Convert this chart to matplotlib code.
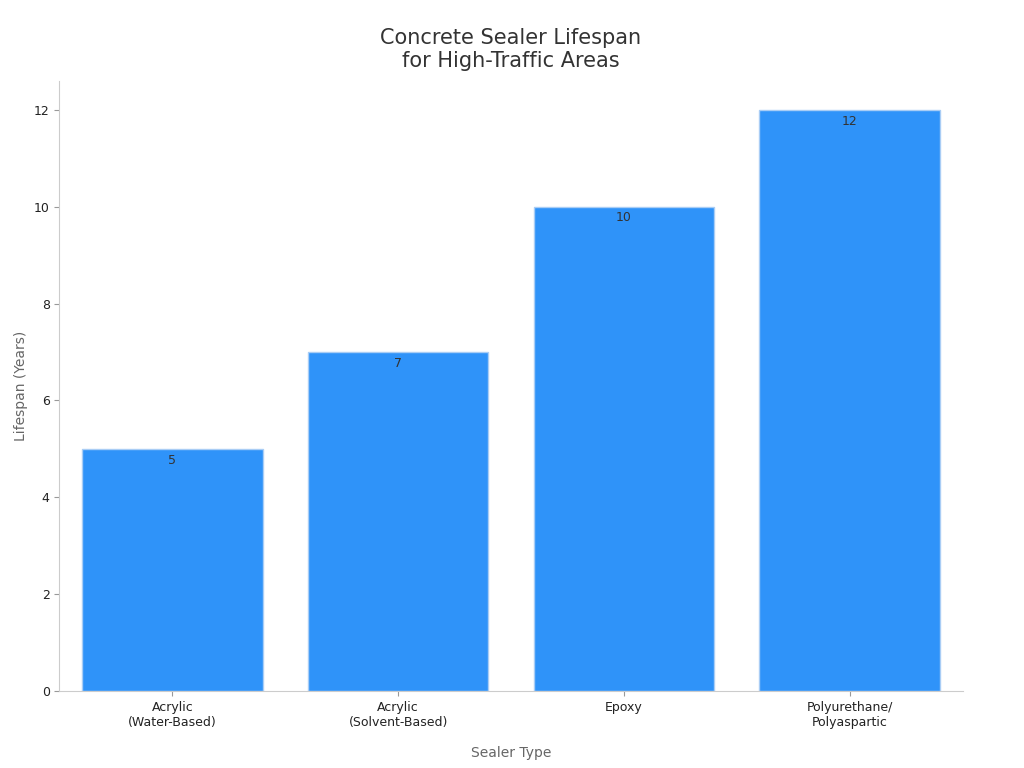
import matplotlib
matplotlib.use("Agg")
import matplotlib.pyplot as plt

categories = ["Acrylic\n(Water-Based)", "Acrylic\n(Solvent-Based)", "Epoxy", "Polyurethane/\nPolyaspartic"]
values = [5, 7, 10, 12]

fig, ax = plt.subplots(figsize=(10.24, 7.68), dpi=100)
fig.subplots_adjust(left=0.058, right=0.94, top=0.895, bottom=0.1)
bars = ax.bar(range(len(values)), values, width=0.8, color="#2f93f9", edgecolor="#a9cdf5", linewidth=1)
for i, v in enumerate(values):
    ax.text(i, v - 0.1, str(v), ha="center", va="top", fontsize=9, color="#333333")
ax.set_xticks(range(len(values)))
ax.set_xticklabels(categories, fontsize=9, color="#222222")
ax.tick_params(axis="y", labelsize=9, colors="#222222")
ax.tick_params(color="#999999")
ax.set_xlim(-0.5, 3.5)
ax.set_ylim(0, 12.6)
ax.set_yticks(range(0, 13, 2))
for s in ["top", "right"]:
    ax.spines[s].set_visible(False)
for s in ["left", "bottom"]:
    ax.spines[s].set_color("#cccccc")
ax.set_xlabel("Sealer Type", fontsize=10, color="#666666", labelpad=12)
ax.set_ylabel("Lifespan (Years)", fontsize=10, color="#666666")
ax.set_title("Concrete Sealer Lifespan\nfor High-Traffic Areas", fontsize=15, color="#333333", pad=10)
fig.savefig("out.png")
